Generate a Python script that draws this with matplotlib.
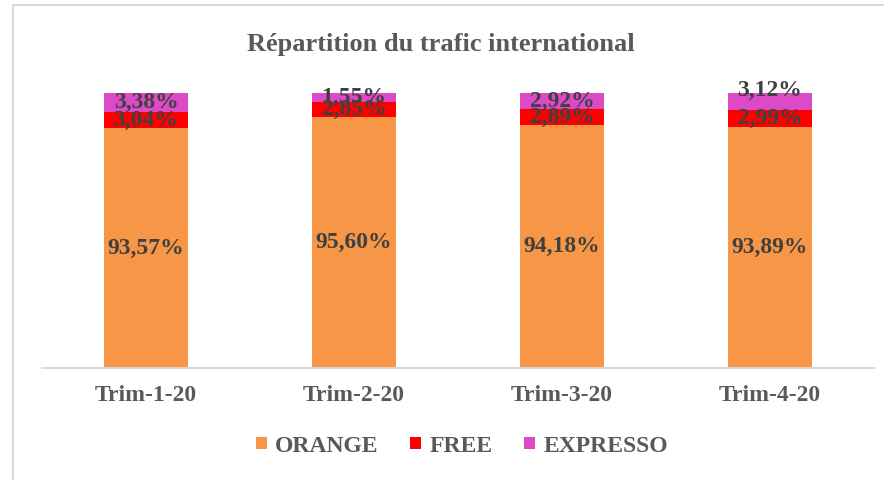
import matplotlib
matplotlib.use("Agg")
import matplotlib.pyplot as plt
from matplotlib.patches import Rectangle, Patch

categories = ["Trim-1-20", "Trim-2-20", "Trim-3-20", "Trim-4-20"]
orange = [93.57, 95.60, 94.18, 93.89]
free = [3.04, 2.85, 2.89, 2.99]
expresso = [3.38, 1.55, 2.92, 3.12]
series_names = ["ORANGE", "FREE", "EXPRESSO"]
colors = ["#F79646", "#FF0000", "#DD4AC8"]

plt.rcParams['font.family'] = ['Liberation Serif', 'DejaVu Serif']

W, H = 884, 480
fig = plt.figure(figsize=(W / 100, H / 100), dpi=100)
ax = fig.add_axes([42 / W, 1 - 368 / H, (874 - 42) / W, (368 - 93) / H])

YMIN, YMAX = 50, 100
x = list(range(len(categories)))
width = 0.40
bottoms = [0.0] * len(categories)
for name, vals, col in zip(series_names, [orange, free, expresso], colors):
    ax.bar(x, vals, width, bottom=bottoms, color=col, label=name)
    for i, (b, v) in enumerate(zip(bottoms, vals)):
        lo = max(b, YMIN)
        yc = (lo + b + v) / 2
        if name == "EXPRESSO" and i == 3:
            yc += 2.0
        ax.text(i, yc, f"{v:.2f}%".replace(".", ","), ha="center", va="center",
                fontsize=17, fontweight="bold", color="#404040")
    bottoms = [b + v for b, v in zip(bottoms, vals)]

ax.set_xlim(-0.5, len(categories) - 0.5)
ax.set_ylim(YMIN, YMAX)
for s in ["top", "right", "left"]:
    ax.spines[s].set_visible(False)
ax.spines["bottom"].set_color("#D9D9D9")
ax.spines["bottom"].set_linewidth(1.5)
ax.set_yticks([])
ax.set_xticks(x)
ax.set_xticklabels(categories, fontsize=17, fontweight="bold", color="#595959")
ax.tick_params(axis="x", length=0, pad=12)

fig.text(441 / W, 1 - 45 / H, "Répartition du trafic international", ha="center", va="center",
         fontsize=19, fontweight="bold", color="#595959")

handles = [Patch(facecolor=c, edgecolor="none") for c in colors]
leg = fig.legend(handles, series_names, loc="center", bbox_to_anchor=(462 / W, 1 - 446 / H),
                 ncol=3, frameon=False, handlelength=0.45, handleheight=0.45, handletextpad=0.35,
                 columnspacing=1.35, prop={"size": 17, "weight": "bold"})
for t in leg.get_texts():
    t.set_color("#595959")

fig.patches.append(Rectangle((13 / W, -0.1), 1.2, 1 - 5 / H + 0.1, transform=fig.transFigure,
                             fill=False, edgecolor="#D9D9D9", linewidth=1.5))

fig.savefig("out.png", dpi=100)
